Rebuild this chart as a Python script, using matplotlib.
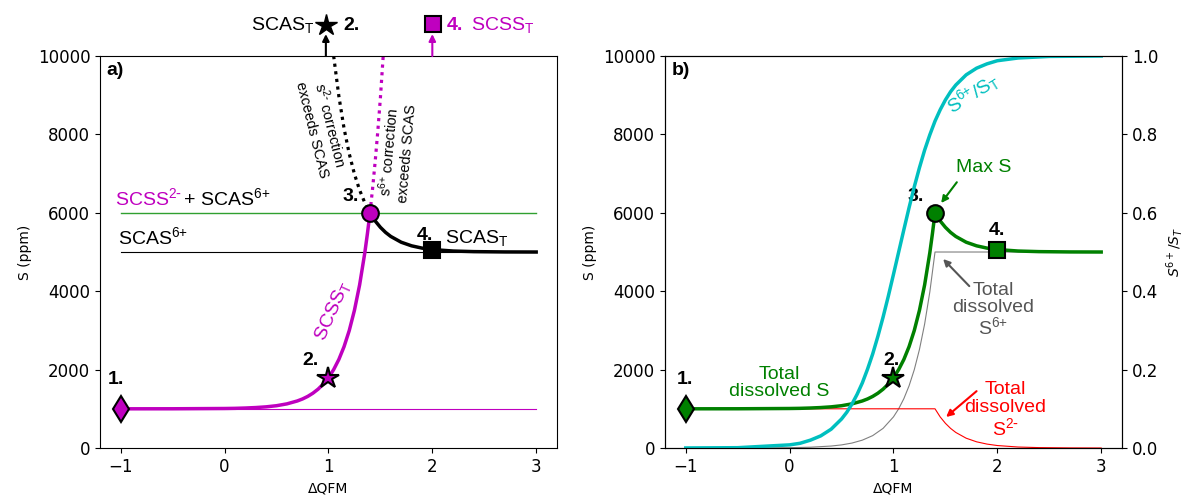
import matplotlib.pyplot as plt

# reference levels (ppm)
scss = 1000
scas = 5000
x_ref = [-1.0, 3.0]

# total dissolved S, rising branch (SCSS_T) up to the maximum
x_rise = [-1.0, -0.5, 0.0, 0.1, 0.2, 0.3, 0.4, 0.5, 0.6, 0.7, 0.75, 0.8, 0.85, 0.9,
          0.95, 1.0, 1.05, 1.1, 1.15, 1.2, 1.25, 1.3, 1.35, 1.375, 1.4]
s_rise = [1000, 1001, 1008, 1012, 1020, 1032, 1050, 1079, 1126, 1200, 1251, 1316, 1398, 1501,
          1631, 1794, 2000, 2259, 2585, 2995, 3512, 4162, 4981, 5467, 6000]

# total dissolved S, falling branch (SCAS_T) after the maximum
x_fall = [1.4, 1.425, 1.45, 1.5, 1.55, 1.6, 1.7, 1.8, 1.9, 2.0, 2.2, 2.4, 2.7, 3.0]
s_fall = [6000, 5889, 5792, 5630, 5500, 5397, 5250, 5158, 5100, 5063, 5025, 5010, 5002, 5000]

# dotted continuations above the maximum
x_scas_lim = [1.05, 1.1, 1.15, 1.2, 1.25, 1.3, 1.35, 1.4]
s_scas_lim = [10000, 8977, 8155, 7508, 6990, 6579, 6256, 5997]
x_scss_lim = [1.4, 1.425, 1.45, 1.475, 1.5, 1.527]
s_scss_lim = [6000, 6623, 7315, 8078, 8929, 10000]

# S2- and S6+ parts (right panel)
x_s2 = [-1.0, 1.4, 1.45, 1.5, 1.55, 1.6, 1.7, 1.8, 1.9, 2.0, 2.2, 2.4, 2.7, 3.0]
s_s2 = [1000, 1000, 792, 630, 500, 397, 250, 158, 100, 63, 25, 10, 2.5, 0]
x_s6 = [-1.0, -0.5, 0.0, 0.2, 0.4, 0.5, 0.6, 0.7, 0.8, 0.9, 1.0, 1.05, 1.1, 1.15,
        1.2, 1.25, 1.3, 1.35, 1.4, 3.0]
s_s6 = [0.1, 0.8, 8, 20, 50, 79, 126, 200, 316, 501, 794, 1000, 1259, 1585,
        1995, 2512, 3162, 3981, 5000, 5000]

# S6+/ST ratio
x_ratio = [-1.0, -0.5, 0.0, 0.1, 0.2, 0.3, 0.4, 0.5, 0.55, 0.6, 0.65, 0.7, 0.75, 0.8, 0.85,
           0.9, 0.95, 1.0, 1.05, 1.1, 1.15, 1.2, 1.25, 1.3, 1.35, 1.4, 1.45, 1.5, 1.55,
           1.6, 1.7, 1.8, 1.9, 2.0, 2.2, 2.5, 3.0]
ratio = [0.0001, 0.0008, 0.008, 0.012, 0.020, 0.031, 0.048, 0.074, 0.091, 0.112, 0.137, 0.166,
         0.201, 0.240, 0.285, 0.334, 0.387, 0.443, 0.500, 0.557, 0.613, 0.666, 0.715, 0.760,
         0.799, 0.834, 0.863, 0.888, 0.909, 0.926, 0.952, 0.969, 0.980, 0.988, 0.995, 0.999, 1.0]

# numbered points
pt_x = [-1.0, 1.0, 1.4, 2.0]
pt_y = [1000, 1794, 6000, 5063]

fig = plt.figure(figsize=(11.86, 4.98), dpi=100)
ax1 = fig.add_axes([0.0843, 0.1004, 0.3853, 0.7871])
ax2 = fig.add_axes([0.5607, 0.1004, 0.3853, 0.7871])

lab = dict(family='Liberation Sans', fontsize=14)
num = dict(family='Liberation Sans', fontsize=14, fontweight='bold', zorder=6)
dot = (0, (1, 1.4))
S2 = r'^{2\text{-}}'
S6 = r'^{6{+}}'


def arrow(ax, tail, head, color):
    ax.annotate('', xy=head, xytext=tail,
                arrowprops=dict(arrowstyle='-|>', color=color, lw=1.5, mutation_scale=10,
                                shrinkA=0, shrinkB=0))


# ---- a) ----
ax1.plot(x_ref, [scss, scss], color='m', lw=0.8)
ax1.plot(x_ref, [scas, scas], color='k', lw=0.8)
ax1.plot(x_ref, [scss + scas, scss + scas], color='#30a030', lw=1.0)
ax1.plot(x_scas_lim, s_scas_lim, color='k', lw=2.3, ls=dot)
ax1.plot(x_scss_lim, s_scss_lim, color='m', lw=2.3, ls=dot)
ax1.plot(x_fall, s_fall, color='k', lw=2.5)
ax1.plot(x_rise, s_rise, color='m', lw=2.5)
ax1.plot(pt_x[0], pt_y[0], 'd', color='m', mec='k', mew=1.5, ms=13)
ax1.plot(pt_x[1], pt_y[1], '*', color='m', mec='k', mew=1.5, ms=16)
ax1.plot(pt_x[2], pt_y[2], 'o', color='m', mec='k', mew=1.5, ms=12)
ax1.plot(pt_x[3], pt_y[3], 's', color='k', mec='k', mew=1.5, ms=11)

ax1.text(0.015, 0.985, 'a)', transform=ax1.transAxes, ha='left', va='top', **num)
ax1.text(-1.055, 6100, r'$\mathregular{SCSS' + S2 + '}$', color='m', ha='left', va='bottom', **lab)
ax1.text(-0.40, 6100, r'$\mathregular{+\ SCAS' + S6 + '}$', color='k', ha='left', va='bottom', **lab)
ax1.text(-1.03, 5100, r'$\mathregular{SCAS' + S6 + '}$', color='k', ha='left', va='bottom', **lab)
ax1.text(-1.05, 1735, '1.', ha='center', va='center', **num)
ax1.text(0.83, 2245, '2.', ha='center', va='center', **num)
ax1.text(1.21, 6420, '3.', ha='center', va='center', **num)
ax1.text(1.93, 5430, '4.', ha='center', va='center', **num)
ax1.text(2.12, 5357, r'$\mathregular{SCAS_T}$', ha='left', va='center', **lab)
ax1.text(1.04, 3495, r'$\mathregular{SCSS_T}$', color='m', rotation=66,
         ha='center', va='center', **lab)
ax1.text(0.94, 8189, r'$\mathregular{s' + S2 + '}$ correction' + '\nexceeds SCAS', rotation=-76,
         ha='center', va='center', rotation_mode='anchor', family='Liberation Sans', fontsize=10.5)
ax1.text(1.655, 7525, r'$\mathregular{s' + S6 + '}$ correction' + '\nexceeds SCAS', rotation=85,
         ha='center', va='center', rotation_mode='anchor', family='Liberation Sans', fontsize=10.5)

# markers above the frame
ax1.annotate('', xy=(0.975, 10560), xytext=(0.975, 10000), annotation_clip=False,
             arrowprops=dict(arrowstyle='-|>', color='k', lw=1.5, mutation_scale=10,
                             shrinkA=0, shrinkB=0))
ax1.annotate('', xy=(2.0, 10560), xytext=(2.0, 10000), annotation_clip=False,
             arrowprops=dict(arrowstyle='-|>', color='m', lw=1.5, mutation_scale=10,
                             shrinkA=0, shrinkB=0))
ax1.plot(0.975, 10790, '*', color='k', ms=16, clip_on=False)
ax1.plot(2.007, 10816, 's', color='m', mec='k', mew=1.5, ms=11, clip_on=False)
ax1.text(0.865, 10790, r'$\mathregular{SCAS_T}$', ha='right', va='center', **lab)
ax1.text(1.14, 10790, '2.', ha='left', va='center', **num)
ax1.text(2.14, 10790, '4.', color='m', ha='left', va='center', **num)
ax1.text(2.37, 10790, r'$\mathregular{SCSS_T}$', color='m', ha='left', va='center', **lab)

# ---- b) ----
ax2.plot(x_s6, s_s6, color='grey', lw=0.8)
ax2.plot(x_s2, s_s2, color='r', lw=0.8)
ax2.plot(x_rise, s_rise, color='g', lw=2.5)
ax2.plot(x_fall, s_fall, color='g', lw=2.5)
ax2.plot(pt_x[0], pt_y[0], 'd', color='g', mec='k', mew=1.5, ms=13)
ax2.plot(pt_x[1], pt_y[1], '*', color='g', mec='k', mew=1.5, ms=16)
ax2.plot(pt_x[2], pt_y[2], 'o', color='g', mec='k', mew=1.5, ms=12)
ax2.plot(pt_x[3], pt_y[3], 's', color='g', mec='k', mew=1.5, ms=11)

ax2.text(0.015, 0.985, 'b)', transform=ax2.transAxes, ha='left', va='top', **num)
ax2.text(-1.005, 1735, '1.', ha='center', va='center', **num)
ax2.text(0.985, 2245, '2.', ha='center', va='center', **num)
ax2.text(1.21, 6420, '3.', ha='center', va='center', **num)
ax2.text(2.0, 5561, '4.', ha='center', va='center', **num)
ax2.text(-0.097, 1658, 'Total\ndissolved S', color='g', ha='center', va='center',
         linespacing=1.0, **lab)
ax2.text(1.865, 7168, 'Max S', color='g', ha='center', va='center', **lab)
arrow(ax2, (1.61, 6780), (1.459, 6250), 'g')
ax2.text(1.96, 3520, 'Total\ndissolved\n' + r'$\mathregular{S' + S6 + '}$', color='#555555',
         ha='center', va='center', linespacing=1.0, **lab)
arrow(ax2, (1.73, 4130), (1.478, 4821), '#555555')
ax2.text(2.077, 969, 'Total\ndissolved\n' + r'$\mathregular{S' + S2 + '}$', color='r',
         ha='center', va='center', linespacing=1.05, **lab)
arrow(ax2, (1.80, 1450), (1.507, 791), 'r')

ax3 = ax2.twinx()
ax3.plot(x_ratio, ratio, color='c', lw=2.5)
ax3.text(1.768, 0.906, r'$\mathregular{S' + S6 + '/S_T}$', color='c', rotation=32,
         ha='center', va='center', **lab)
ax3.set_ylim(0, 1.0)
ax3.set_yticks([0.0, 0.2, 0.4, 0.6, 0.8, 1.0])
ax3.set_ylabel(r'$S^{6+}/S_T$', fontsize=10)
ax3.tick_params(labelsize=12)

for ax in (ax1, ax2):
    ax.set_xlim(-1.2, 3.2)
    ax.set_ylim(0, 10000)
    ax.set_xticks([-1, 0, 1, 2, 3])
    ax.set_yticks([0, 2000, 4000, 6000, 8000, 10000])
    ax.set_xlabel('ΔQFM', fontsize=10)
    ax.set_ylabel('S (ppm)', fontsize=10)
    ax.tick_params(labelsize=12)

fig.savefig('out.png', dpi=100)
